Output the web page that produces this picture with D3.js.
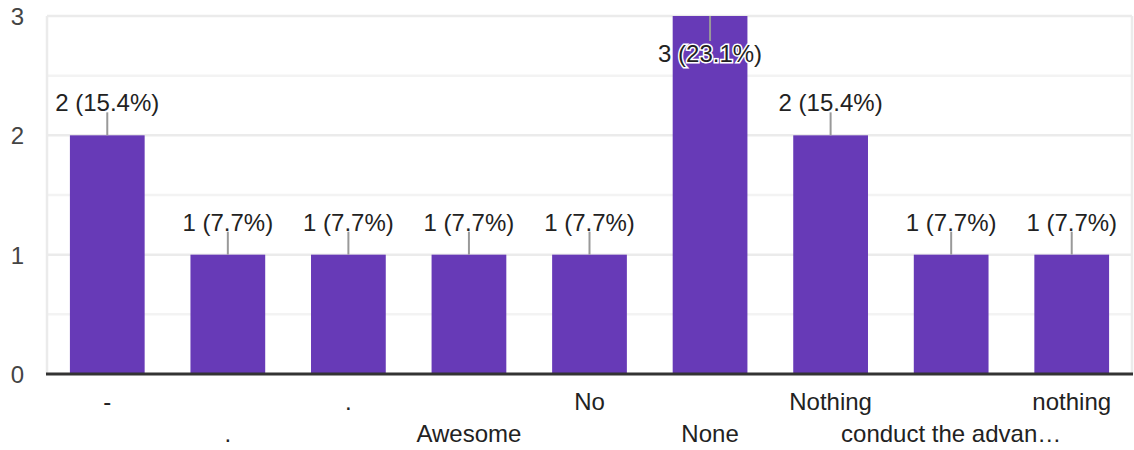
<!DOCTYPE html>
<html>
<head>
<meta charset="utf-8">
<script src="https://cdn.jsdelivr.net/npm/d3@7"></script>
<style>
  body { margin: 0; background: #fff; }
  text { font-family: "Liberation Sans", Arial, sans-serif; }
</style>
</head>
<body>
<svg id="chart" width="1134" height="450"></svg>
<script>
var categories = ['-', '.', '.', 'Awesome', 'No', 'None', 'Nothing', 'conduct the advan\u2026', 'nothing']
  , counts = [2, 1, 1, 1, 1, 3, 2, 1, 1]
  , percents = ['15.4%', '7.7%', '7.7%', '7.7%', '7.7%', '23.1%', '15.4%', '7.7%', '7.7%']
  , yTicks = [0, 1, 2, 3]
  , yMinor = [0.5, 1.5, 2.5]

var plotLeft = 47
  , plotRight = 1132
  , plotTop = 16
  , plotBottom = 374

var svg = d3.select('#chart')

var x = d3.scaleBand()
  .domain(d3.range(categories.length))
  .range([plotLeft, plotRight])
  .paddingInner(0.38)
  .paddingOuter(0.19)

var y = d3.scaleLinear()
  .domain([0, 3])
  .range([plotBottom, plotTop])

// minor grid
svg.append('g')
  .selectAll('line')
  .data(yMinor)
  .enter()
    .append('line')
    .attr('x1', plotLeft)
    .attr('x2', plotRight)
    .attr('y1', y)
    .attr('y2', y)
    .attr('stroke', '#f3f3f3')
    .attr('stroke-width', 2.5)

// major grid
svg.append('g')
  .selectAll('line')
  .data(yTicks.filter(function(d) { return d > 0 }))
  .enter()
    .append('line')
    .attr('x1', plotLeft)
    .attr('x2', plotRight)
    .attr('y1', y)
    .attr('y2', y)
    .attr('stroke', '#ebebeb')
    .attr('stroke-width', 2.5)

// side borders
svg.append('g')
  .selectAll('line')
  .data([plotLeft, plotRight])
  .enter()
    .append('line')
    .attr('x1', function(d) { return d })
    .attr('x2', function(d) { return d })
    .attr('y1', y(3))
    .attr('y2', y(0))
    .attr('stroke', '#ebebeb')
    .attr('stroke-width', 2.5)

// y tick labels
svg.append('g')
  .selectAll('text')
  .data(yTicks)
  .enter()
    .append('text')
    .attr('x', 24)
    .attr('y', function(d) { return y(d) + 9 })
    .attr('text-anchor', 'end')
    .attr('font-size', '24px')
    .attr('fill', '#444')
    .text(function(d) { return d })

// bars
svg.append('g')
  .selectAll('rect')
  .data(counts)
  .enter()
    .append('rect')
    .attr('x', function(d, i) { return x(i) })
    .attr('y', function(d) { return y(d) })
    .attr('width', x.bandwidth())
    .attr('height', function(d) { return y(0) - y(d) })
    .attr('fill', '#673ab7')

// baseline
svg.append('line')
  .attr('x1', plotLeft - 1)
  .attr('x2', plotRight + 1)
  .attr('y1', y(0))
  .attr('y2', y(0))
  .attr('stroke', '#333')
  .attr('stroke-width', 3)

// value labels with leader lines
var labels = svg.append('g')
  .selectAll('g')
  .data(counts)
  .enter()
    .append('g')
    .attr('transform', function(d, i) {
      return 'translate(' + (x(i) + x.bandwidth() / 2) + ',' + y(d) + ')'
    })

labels
  .append('line')
  .attr('x1', 0)
  .attr('x2', 0)
  .attr('y1', 0)
  .attr('y2', function(d) { return inside(d) ? 25 : -23 })
  .attr('stroke', '#999')
  .attr('stroke-width', 2)

labels
  .append('text')
  .attr('text-anchor', 'middle')
  .attr('y', function(d) { return inside(d) ? 46 : -24 })
  .attr('font-size', '24px')
  .attr('fill', '#222')
  .attr('stroke', function(d) { return inside(d) ? '#fff' : 'none' })
  .attr('stroke-width', 3)
  .attr('paint-order', 'stroke')
  .text(function(d, i) { return d + ' (' + percents[i] + ')' })

function inside(d) {
  return y(d) - 45 < 0
}

// category labels, staggered
svg.append('g')
  .selectAll('text')
  .data(categories)
  .enter()
    .append('text')
    .attr('x', function(d, i) { return x(i) + x.bandwidth() / 2 })
    .attr('y', function(d, i) { return i % 2 ? 442 : 410 })
    .attr('text-anchor', 'middle')
    .attr('font-size', '24px')
    .attr('fill', '#222')
    .text(function(d) { return d })
</script>
</body>
</html>
